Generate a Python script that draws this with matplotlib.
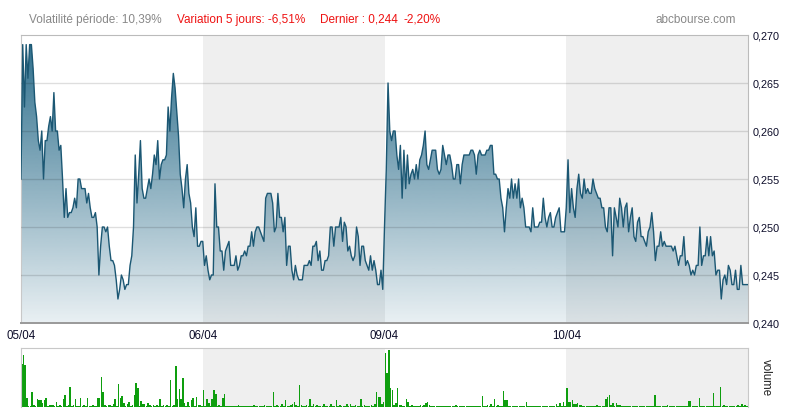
import numpy as np
import matplotlib
matplotlib.use('Agg')
import matplotlib.pyplot as plt
from matplotlib.colors import to_rgb

# ---------------- data ----------------
day_labels = ['05/04', '06/04', '09/04', '10/04']

price_d1 = [0.255, 0.269, 0.2625, 0.269, 0.2655, 0.269, 0.269, 0.2665, 0.263, 0.2615,
            0.259, 0.258, 0.260, 0.255, 0.259, 0.259, 0.2605, 0.2615, 0.260, 0.264,
            0.260, 0.260, 0.258, 0.2585, 0.255, 0.251, 0.254, 0.251, 0.2515, 0.2515,
            0.252, 0.253, 0.252, 0.255, 0.255, 0.254, 0.254, 0.254, 0.2525, 0.2535,
            0.252, 0.251, 0.251, 0.2515, 0.250, 0.245, 0.248, 0.250, 0.250, 0.2495,
            0.250, 0.248, 0.2465, 0.2465, 0.246, 0.2445, 0.2425, 0.2435, 0.245, 0.2445,
            0.2435, 0.244, 0.244, 0.246, 0.247, 0.250, 0.2575, 0.2525, 0.2555, 0.259,
            0.254, 0.253, 0.253, 0.254, 0.255, 0.254, 0.2555, 0.2575, 0.2565, 0.259,
            0.255, 0.2565, 0.257, 0.257, 0.2575, 0.2625, 0.260, 0.2635, 0.266, 0.2645,
            0.262, 0.2595, 0.2555, 0.254, 0.252, 0.255, 0.2565, 0.2535, 0.2525, 0.250,
            0.249, 0.252, 0.248, 0.248, 0.2485]

price_d2 = [0.2485, 0.246, 0.247, 0.2455, 0.2445, 0.245, 0.245, 0.2545, 0.250, 0.250,
            0.2475, 0.2475, 0.2455, 0.2475, 0.248, 0.2485, 0.246, 0.246, 0.246, 0.247,
            0.2455, 0.246, 0.247, 0.247, 0.2475, 0.247, 0.248, 0.248, 0.2495, 0.248,
            0.2495, 0.250, 0.250, 0.2495, 0.249, 0.2485, 0.253, 0.2535, 0.2535, 0.2535,
            0.2525, 0.2495, 0.250, 0.2535, 0.251, 0.251, 0.2495, 0.251, 0.246, 0.248,
            0.248, 0.2455, 0.2445, 0.246, 0.245, 0.2445, 0.2445, 0.2445, 0.246, 0.246,
            0.246, 0.2465, 0.246, 0.248, 0.248, 0.2485, 0.2465, 0.2475, 0.2455, 0.2455,
            0.2465, 0.2465, 0.247, 0.250, 0.250, 0.248, 0.250, 0.250, 0.250, 0.251,
            0.2485, 0.2505, 0.250, 0.2475, 0.248, 0.247, 0.2465, 0.247, 0.250, 0.249,
            0.246, 0.248, 0.248, 0.2465, 0.246, 0.2455, 0.247, 0.2455, 0.2465, 0.2455,
            0.244, 0.244, 0.2455, 0.2435]

price_d3 = [0.250, 0.256, 0.265, 0.260, 0.259, 0.260, 0.260, 0.2575, 0.256, 0.2585,
            0.253, 0.258, 0.254, 0.2575, 0.2545, 0.2555, 0.256, 0.255, 0.2565, 0.255,
            0.257, 0.2575, 0.2585, 0.260, 0.2565, 0.256, 0.257, 0.258, 0.258, 0.258,
            0.256, 0.2555, 0.256, 0.2585, 0.2575, 0.2565, 0.2575, 0.2575, 0.2565, 0.255,
            0.255, 0.2565, 0.2565, 0.2545, 0.2565, 0.2575, 0.2575, 0.2575, 0.2575, 0.258,
            0.258, 0.2575, 0.2555, 0.2575, 0.258, 0.2575, 0.2575, 0.2575, 0.258, 0.258,
            0.2585, 0.2585, 0.2555, 0.2555, 0.255, 0.255, 0.253, 0.252, 0.2495, 0.252,
            0.254, 0.253, 0.255, 0.253, 0.2545, 0.253, 0.255, 0.252, 0.253, 0.252,
            0.250, 0.250, 0.250, 0.2495, 0.252, 0.250, 0.250, 0.250, 0.2505, 0.2505,
            0.253, 0.251, 0.250, 0.251, 0.2515, 0.250, 0.250, 0.251, 0.2515, 0.252,
            0.2495, 0.2495, 0.2495]

price_d4 = [0.252, 0.257, 0.2515, 0.254, 0.252, 0.251, 0.254, 0.2555, 0.2535, 0.253, 0.255,
            0.2535, 0.254, 0.2535, 0.2535, 0.255, 0.254, 0.2535, 0.253, 0.253, 0.252,
            0.252, 0.250, 0.2495, 0.252, 0.252, 0.247, 0.252, 0.251, 0.250, 0.253,
            0.252, 0.250, 0.252, 0.2525, 0.2495, 0.251, 0.252, 0.249, 0.2485, 0.2505,
            0.251, 0.249, 0.249, 0.2485, 0.248, 0.2495, 0.250, 0.2515, 0.2495, 0.2465,
            0.248, 0.248, 0.2495, 0.248, 0.2485, 0.248, 0.248, 0.248, 0.248, 0.2475,
            0.248, 0.247, 0.246, 0.247, 0.247, 0.249, 0.246, 0.2465, 0.246, 0.245,
            0.2455, 0.245, 0.246, 0.246, 0.250, 0.246, 0.247, 0.247, 0.249, 0.247,
            0.249, 0.247, 0.2475, 0.245, 0.2455, 0.2455, 0.2425, 0.2445, 0.245, 0.244,
            0.246, 0.2455, 0.244, 0.244, 0.2455, 0.2435, 0.2435, 0.246, 0.244, 0.244,
            0.244, 0.244]

vol_d1 = [43, 52, 42, 9, 1, 1, 15, 2, 1, 8, 7, 7, 4, 7, 9, 1, 2, 2, 2, 1,
          5, 1, 2, 1, 8, 12, 1, 2, 20, 1, 2, 8, 1, 1, 9, 1, 2, 1, 9, 1,
          1, 2, 1, 1, 9, 9, 30, 15, 2, 1, 2, 2, 1, 3, 8, 1, 23, 9, 11, 4,
          1, 3, 5, 1, 2, 12, 24, 19, 1, 6, 3, 3, 1, 4, 2, 1, 2, 1, 2, 1,
          8, 1, 2, 1, 2, 1, 27, 1, 2, 41, 8, 18, 8, 29, 4, 1, 5, 1, 7, 9,
          1, 10, 2, 2, 1]

vol_d2 = [17, 1, 8, 4, 1, 8, 17, 13, 1, 2, 1, 9, 13, 1, 1, 1, 1, 1, 1, 1,
          2, 1, 1, 1, 1, 1, 1, 1, 1, 2, 1, 1, 1, 1, 1, 2, 1, 1, 1, 1,
          15, 1, 2, 1, 1, 3, 1, 7, 1, 1, 2, 3, 5, 2, 1, 22, 2, 1, 1, 2,
          1, 8, 1, 3, 1, 2, 1, 1, 1, 3, 1, 1, 1, 3, 1, 1, 7, 1, 2, 1,
          1, 1, 3, 1, 3, 1, 1, 2, 1, 1, 8, 1, 2, 1, 1, 1, 2, 1, 3, 15,
          10, 10, 3, 5]

vol_d3 = [54, 34, 57, 19, 17, 2, 4, 19, 2, 2, 1, 1, 8, 5, 1, 2, 1, 1, 1, 1,
          2, 1, 2, 4, 5, 2, 1, 1, 1, 1, 1, 1, 1, 1, 1, 1, 1, 1, 1, 1,
          2, 1, 1, 1, 1, 1, 1, 1, 1, 1, 1, 1, 1, 1, 1, 11, 1, 1, 2, 1,
          3, 1, 8, 1, 2, 1, 1, 16, 7, 7, 1, 1, 1, 1, 1, 1, 1, 1, 1, 1,
          5, 1, 1, 1, 1, 1, 1, 1, 1, 1, 1, 1, 1, 1, 1, 1, 1, 3, 1, 4,
          1, 5, 1]

vol_d4 = [19, 5, 5, 7, 3, 3, 4, 2, 2, 1, 1, 1, 1, 1, 1, 1, 1, 2, 1, 1,
          1, 1, 8, 10, 12, 2, 4, 1, 4, 2, 2, 1, 1, 1, 1, 1, 1, 1, 1, 1,
          1, 1, 1, 1, 1, 1, 1, 1, 1, 1, 12, 1, 1, 1, 1, 1, 1, 2, 1, 1,
          1, 1, 1, 1, 1, 1, 1, 1, 1, 6, 6, 1, 1, 1, 1, 9, 1, 1, 1, 1,
          1, 1, 1, 14, 1, 1, 1, 20, 1, 2, 1, 1, 1, 1, 1, 1, 1, 2, 1, 3,
          1, 2, 1]

y_ticks = [0.240, 0.245, 0.250, 0.255, 0.260, 0.265, 0.270]
y_tick_labels = ['0,240', '0,245', '0,250', '0,255', '0,260', '0,265', '0,270']

header_volatility = 'Volatilité période: 10,39%'
header_variation = 'Variation 5 jours: -6,51%'
header_last = 'Dernier : 0,244'
header_change = '-2,20%'
site_name = 'abcbourse.com'
volume_label = 'volume'

# ---------------- figure ----------------
W, H = 790, 410
fig = plt.figure(figsize=(W / 100, H / 100), dpi=100)
fig.patch.set_facecolor('white')


def fx(px):
    return px / W


def fy(py):
    return 1 - py / H


FONT = ['Liberation Sans', 'DejaVu Sans']

ax = fig.add_axes([fx(21), fy(324), fx(748) - fx(21), fy(36) - fy(324)])
axv = fig.add_axes([fx(21), fy(408), fx(748) - fx(21), fy(349) - fy(408)])

prices = [price_d1, price_d2, price_d3, price_d4]
vols = [vol_d1, vol_d2, vol_d3, vol_d4]
ndays = len(prices)

x_all, y_all, xv_all, v_all, widths = [], [], [], [], []
for d, (p, v) in enumerate(zip(prices, vols)):
    n = len(p)
    xp = np.linspace(d, d + 1, n, endpoint=(d == ndays - 1))
    x_all.extend(xp)
    y_all.extend(p)
    xv = np.linspace(d, d + 1, len(v), endpoint=False)
    xv_all.extend(xv)
    v_all.extend(v)
    widths.extend([0.9 / len(v)] * len(v))
x_all = np.array(x_all)
y_all = np.array(y_all)

ymin, ymax = y_ticks[0], y_ticks[-1]

# alternating day bands
for a in (ax, axv):
    a.set_facecolor('white')
    for d in range(ndays):
        if d % 2 == 1:
            a.axvspan(d, d + 1, color='#efefef', zorder=0, lw=0)

# gradient area
poly = ax.fill_between(x_all, y_all, ymin, facecolor='none', edgecolor='none', zorder=1)
g = np.linspace(0, 1, 256).reshape(-1, 1)
rgba = np.zeros((256, 1, 4))
rgba[..., :3] = to_rgb('#236786')
rgba[..., 3] = 0.10 + (0.97 - 0.10) * g
im = ax.imshow(rgba, extent=[0, ndays, ymin, ymax], origin='lower',
               aspect='auto', zorder=2, interpolation='bilinear')
im.set_clip_path(poly.get_paths()[0], transform=ax.transData)

for t in y_ticks[1:-1]:
    ax.axhline(t, color='black', alpha=0.13, lw=1.0, zorder=3)

ax.plot(x_all, y_all, color='#1b5773', lw=1.0, zorder=4)

ax.set_xlim(0, ndays)
ax.set_ylim(ymin, ymax)
ax.yaxis.tick_right()
ax.set_yticks(y_ticks)
ax.set_yticklabels(y_tick_labels, fontfamily=FONT, fontsize=7.8, color='#0d0d2a')
ax.set_xticks(range(ndays))
ax.set_xticklabels(day_labels, fontfamily=FONT, fontsize=8.3, color='#0d0d2a')
ax.tick_params(axis='both', length=0)
ax.tick_params(axis='y', pad=3)
ax.tick_params(axis='x', pad=4)
ax.spines['top'].set_color('#bbbbbb')
ax.spines['left'].set_color('#c8c8c8')
ax.spines['right'].set_color('#bbbbbb')
ax.spines['bottom'].set_color('#999999')
ax.spines['bottom'].set_linewidth(1.4)

# volume
axv.bar(xv_all, v_all, width=widths, align='edge', color='#0e9e0e', zorder=2, lw=0)
axv.set_xlim(0, ndays)
axv.set_ylim(0, 59)
axv.set_xticks([])
axv.set_yticks([])
for s in ('top', 'left', 'right'):
    axv.spines[s].set_color('#c8c8c8')
axv.spines['bottom'].set_visible(False)

fig.text(fx(766), fy(378), volume_label, rotation=270, ha='center', va='center',
         fontfamily=FONT, fontsize=8.3, color='#222222')

# header
fig.text(fx(29), fy(20), header_volatility, ha='left', va='center',
         fontfamily=FONT, fontsize=8.5, color='#888888')
fig.text(fx(177), fy(20), header_variation, ha='left', va='center',
         fontfamily=FONT, fontsize=8.5, color='#ee1111')
fig.text(fx(320), fy(20), header_last, ha='left', va='center',
         fontfamily=FONT, fontsize=8.5, color='#ee1111')
fig.text(fx(404), fy(20), header_change, ha='left', va='center',
         fontfamily=FONT, fontsize=8.5, color='#ee1111')
fig.text(fx(655), fy(20), site_name, ha='left', va='center',
         fontfamily=FONT, fontsize=8.5, color='#888888')

fig.savefig('out.png', dpi=100)
